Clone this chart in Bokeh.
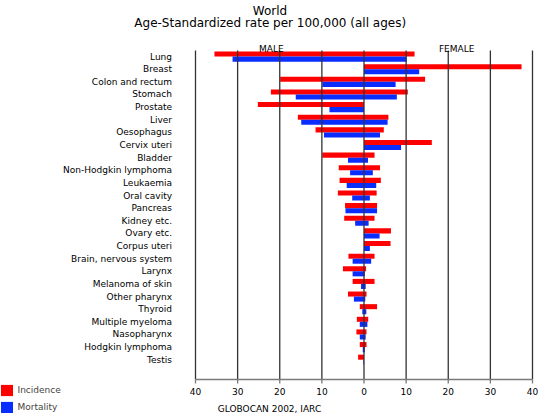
from bokeh.plotting import figure
from bokeh.models import Range1d, Label, Legend, LegendItem
from bokeh.embed import file_html
from bokeh.resources import INLINE

cancers = ["Lung", "Breast", "Colon and rectum", "Stomach", "Prostate", "Liver",
           "Oesophagus", "Cervix uteri", "Bladder", "Non-Hodgkin lymphoma",
           "Leukaemia", "Oral cavity", "Pancreas", "Kidney etc.", "Ovary etc.",
           "Corpus uteri", "Brain, nervous system", "Larynx", "Melanoma of skin",
           "Other pharynx", "Thyroid", "Multiple myeloma", "Nasopharynx",
           "Hodgkin lymphoma", "Testis"]

male_incidence = [35.5, 0, 19.9, 22.1, 25.2, 15.7, 11.5, 0, 9.9, 6.0, 5.8, 6.2, 4.5,
                  4.7, 0, 0, 3.7, 5.0, 2.7, 3.8, 1.0, 1.7, 1.8, 1.0, 1.4]
female_incidence = [12.0, 37.4, 14.5, 10.4, 0, 5.8, 4.7, 16.1, 2.5, 3.8, 4.0, 3.0, 3.1,
                    2.5, 6.4, 6.3, 2.5, 0.5, 2.5, 0.6, 3.1, 1.0, 0.6, 0.6, 0]
male_mortality = [31.2, 0, 9.9, 16.2, 8.2, 14.9, 9.5, 0, 3.8, 3.3, 4.1, 2.8, 4.4,
                  2.1, 0, 0, 2.7, 2.7, 0.7, 2.4, 0.4, 1.0, 1.0, 0.3, 0.15]
female_mortality = [10.1, 13.1, 7.5, 7.8, 0, 5.6, 3.8, 8.8, 0.95, 2.1, 2.9, 1.4, 3.1,
                    1.1, 3.7, 1.4, 1.7, 0.2, 0.4, 0.3, 0.55, 0.8, 0.4, 0.2, 0]

x_ticks = [-40, -30, -20, -10, 0, 10, 20, 30, 40]
x_tick_labels = ["40", "30", "20", "10", "0", "10", "20", "30", "40"]

title_line1 = "World"
title_line2 = "Age-Standardized rate per 100,000 (all ages)"
source_text = "GLOBOCAN 2002, IARC"
side_labels = ["MALE", "FEMALE"]
series_labels = ["Incidence", "Mortality"]

RED = "#ff0000"
BLUE = "#0a2dff"
GRID = "#333333"
AXIS = "#7a7a7a"
FONT = "DejaVu Sans"

W, H = 540, 413
# layout of the plotting area in pixels
X_LEFT_PX, X_RIGHT_PX = 195.0, 532.0       # where -40 and +40 fall
ROW0_PX, ROW_PX = 56.1, 12.63                 # centre of first row, row pitch
AXIS_PX, GRID_TOP_PX = 379.0, 50.0

XS = (X_RIGHT_PX - X_LEFT_PX) / 80.0
X0_PX = X_LEFT_PX + 40 * XS


def px(pix):
    return (pix - X0_PX) / XS


def py(pix):
    return (pix - ROW0_PX) / ROW_PX


n = len(cancers)
idx = list(range(n))
y_inc = [i - 0.2 for i in idx]
y_mort = [i + 0.2 for i in idx]

p = figure(width=W, height=H, output_backend="svg", toolbar_location=None,
           x_range=Range1d(px(0), px(W)), y_range=Range1d(py(H), py(0)),
           x_axis_location=None, y_axis_location=None,
           min_border=0, min_border_left=0, min_border_right=0,
           min_border_top=0, min_border_bottom=0)
p.outline_line_color = None
p.background_fill_color = "white"
p.border_fill_color = "white"
p.grid.visible = False

neg = lambda vals: [-v for v in vals]
zeros = [0] * n

r1 = p.hbar(y=y_inc, left=neg(male_incidence), right=zeros, height=0.4,
            fill_color=RED, line_color=None)
r2 = p.hbar(y=y_inc, left=zeros, right=female_incidence, height=0.4,
            fill_color=RED, line_color=None)
r3 = p.hbar(y=y_mort, left=neg(male_mortality), right=zeros, height=0.4,
            fill_color=BLUE, line_color=None)
r4 = p.hbar(y=y_mort, left=zeros, right=female_mortality, height=0.4,
            fill_color=BLUE, line_color=None)

y_axis = py(AXIS_PX)
y_gtop = py(GRID_TOP_PX)

# vertical grid lines, drawn over the bars
p.segment(x0=x_ticks, x1=x_ticks, y0=[y_gtop] * len(x_ticks), y1=[y_axis] * len(x_ticks),
          line_color=GRID, line_width=1.3)

# x axis line and ticks
p.segment(x0=[x_ticks[0]], x1=[x_ticks[-1]], y0=[y_axis], y1=[y_axis],
          line_color=AXIS, line_width=1.5)
p.segment(x0=x_ticks, x1=x_ticks, y0=[y_axis] * len(x_ticks),
          y1=[py(AXIS_PX + 4)] * len(x_ticks), line_color=AXIS, line_width=1.3)
p.text(x=x_ticks, y=[py(390.5)] * len(x_ticks), text=x_tick_labels,
       text_font={"value": FONT}, text_font_size="9px", text_align="center",
       text_baseline="middle", text_color="#000000")

# category labels
p.text(x=[px(171.5)] * n, y=idx, text=cancers,
       text_font={"value": FONT}, text_font_size="9px", text_align="right",
       text_baseline="middle", text_color="#000000")


def add_label(x, y, text, size, align="center", baseline="alphabetic"):
    p.add_layout(Label(x=x, y=y, text=text, text_font=FONT, text_font_size=size,
                       text_align=align, text_baseline=baseline, text_color="#000000"))


add_label(px(269.5), py(10.8), title_line1, "12px")
add_label(px(269.7), py(22.4), title_line2, "12px")
add_label(-22.0, py(48.8), side_labels[0], "9px")
add_label(22.0, py(48.8), side_labels[1], "9px")
add_label(px(217.3), py(408.4), source_text, "9px", align="left")

legend = Legend(items=[LegendItem(label=series_labels[0], renderers=[r1]),
                       LegendItem(label=series_labels[1], renderers=[r3])],
                location=(-1.5, -1.4), orientation="vertical",
                glyph_width=15, glyph_height=14, spacing=3, padding=0, margin=0,
                label_standoff=4, label_height=14,
                label_text_font=FONT, label_text_font_size="9px",
                border_line_color=None, background_fill_alpha=0)
p.add_layout(legend, "center")

open("out.html", "w").write(file_html(p, INLINE))
